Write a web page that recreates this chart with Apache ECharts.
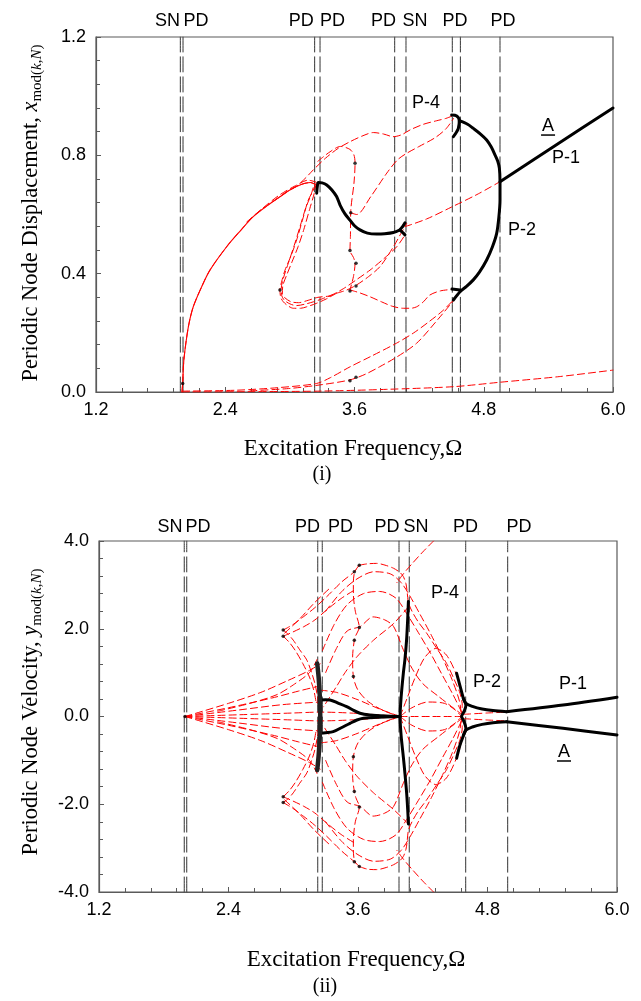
<!DOCTYPE html>
<html>
<head>
<meta charset="utf-8">
<script src="https://cdn.jsdelivr.net/npm/echarts@6/dist/echarts.min.js"></script>
<style>
html,body{margin:0;padding:0;background:#fff}
#c{width:641px;height:1001px}
</style>
</head>
<body>
<div id="c"></div>
<script>
// ---------- (i) periodic node displacement vs excitation frequency ----------
// stable solutions (solid black)
const dispP1 = [[4.951,0.711],[5.5,0.842],[6.0,0.96]];
const dispP2 = [[4.573,0.917],[4.65,0.905],[4.703,0.891],[4.77,0.872],[4.827,0.852],[4.87,0.828],[4.905,0.801],[4.93,0.78],[4.945,0.757],[4.951,0.711],[4.951,0.649],[4.94,0.59],[4.92,0.536],[4.88,0.49],[4.827,0.446],[4.76,0.405],[4.703,0.379],[4.64,0.357],[4.58,0.339],[4.518,0.311]];
const dispP2Hook = [[4.502,0.936],[4.549,0.933],[4.573,0.917],[4.564,0.891],[4.549,0.88],[4.518,0.863]];
const dispP2Foot = [[4.505,0.348],[4.58,0.345]];
const dispP4 = [[3.249,0.672],[3.255,0.695],[3.264,0.708],[3.3,0.707],[3.342,0.70],[3.39,0.683],[3.435,0.66],[3.466,0.632],[3.51,0.603],[3.558,0.581],[3.60,0.562],[3.651,0.548],[3.72,0.537],[3.806,0.534],[3.88,0.535],[3.961,0.539],[4.023,0.548]];
const dispP4Fork = [[4.069,0.572],[4.045,0.558],[4.023,0.548],[4.045,0.54],[4.069,0.531]];

// unstable solutions (dashed red)
const dispRise = [[1.998,0.0],[2.005,0.03],[2.012,0.09],[2.026,0.142],[2.06,0.225],[2.103,0.288],[2.18,0.355],[2.258,0.412],[2.413,0.491],[2.54,0.545],[2.66,0.593],[2.79,0.63],[2.908,0.66],[3.0,0.683],[3.094,0.70],[3.19,0.708],[3.235,0.702]];
const dispRise2 = [[2.6,0.575],[2.75,0.622],[2.9,0.665],[3.05,0.697],[3.17,0.716],[3.24,0.71]];
const dispUpper = [[2.85,0.645],[2.95,0.672],[3.063,0.696],[3.15,0.725],[3.218,0.751],[3.33,0.79],[3.45,0.824],[3.558,0.846],[3.67,0.865],[3.775,0.877],[3.87,0.872],[3.961,0.863],[4.04,0.87],[4.116,0.886],[4.24,0.905],[4.363,0.917],[4.45,0.925],[4.52,0.935]];
const dispUpper2 = [[3.565,0.606],[3.62,0.60],[3.75,0.66],[3.9,0.74],[4.0,0.785],[4.085,0.807],[4.2,0.83],[4.35,0.86],[4.45,0.89],[4.52,0.925]];
const dispLoopA = [[3.235,0.702],[3.215,0.68],[3.171,0.649],[3.12,0.585],[3.063,0.514],[3.01,0.46],[2.955,0.412],[2.925,0.375],[2.908,0.345],[2.915,0.32],[2.939,0.305],[2.98,0.292],[3.032,0.283],[3.1,0.283],[3.156,0.288],[3.249,0.30],[3.34,0.315],[3.434,0.334]];
const dispLoopB = [[3.215,0.69],[3.195,0.665],[3.15,0.625],[3.095,0.56],[3.04,0.495],[2.985,0.435],[2.94,0.385],[2.92,0.35],[2.925,0.325],[2.95,0.31],[3.0,0.298],[3.06,0.292],[3.14,0.297],[3.22,0.305],[3.3,0.315],[3.4,0.33]];
const dispLoopC = [[3.245,0.708],[3.225,0.67],[3.185,0.62],[3.13,0.55],[3.075,0.49],[3.02,0.44],[2.97,0.395],[2.935,0.36],[2.93,0.33],[2.955,0.318],[3.01,0.305],[3.08,0.302],[3.17,0.31],[3.26,0.32],[3.373,0.324]];
const dispToSN1 = [[3.373,0.324],[3.5,0.35],[3.62,0.38],[3.744,0.412],[3.87,0.45],[3.992,0.491],[4.069,0.531]];
const dispToSN2 = [[3.434,0.334],[3.53,0.345],[3.62,0.362],[3.73,0.39],[3.837,0.424],[3.96,0.49],[4.03,0.535],[4.085,0.570]];
const dispP1Unstable = [[4.069,0.559],[4.27,0.585],[4.5,0.625],[4.75,0.67],[4.951,0.711]];
const dispWave = [[3.26,0.78],[3.373,0.812],[3.47,0.83],[3.558,0.82],[3.595,0.801],[3.605,0.773],[3.595,0.706],[3.565,0.61],[3.562,0.525],[3.558,0.478],[3.59,0.455],[3.605,0.435],[3.59,0.39],[3.558,0.345]];
const dispDip = [[3.558,0.345],[3.65,0.335],[3.744,0.322],[3.85,0.305],[3.95,0.29],[4.053,0.283],[4.12,0.283],[4.177,0.288],[4.24,0.305],[4.30,0.328],[4.4,0.342],[4.518,0.347]];
const dispLow1 = [[2.005,0.003],[2.5,0.006],[2.9,0.015],[3.249,0.029],[3.373,0.048],[3.558,0.085],[3.75,0.12],[3.99,0.165],[4.15,0.2],[4.3,0.24],[4.42,0.275],[4.518,0.311]];
const dispLow2 = [[2.63,0.004],[3.0,0.012],[3.3,0.025],[3.558,0.041],[3.7,0.06],[3.837,0.086],[4.0,0.12],[4.177,0.165],[4.35,0.235],[4.549,0.322]];
const dispBase = [[2.0,0.0],[2.6,0.001],[3.28,0.003],[3.9,0.009],[4.518,0.018],[4.951,0.033],[5.5,0.052],[6.0,0.074]];
const dispNodes = [[2.005,0.029],[2.908,0.345],[3.605,0.773],[3.565,0.606],[3.558,0.478],[3.614,0.435],[3.614,0.358],[3.558,0.341],[3.614,0.05],[3.558,0.038]];

const dispBlack = [dispP1, dispP2, dispP2Hook, dispP2Foot, dispP4, dispP4Fork];
const dispRed = [dispRise, dispRise2, dispUpper, dispUpper2, dispLoopA, dispLoopB, dispLoopC, dispToSN1, dispToSN2, dispP1Unstable, dispWave, dispDip, dispLow1, dispLow2, dispBase];

// bifurcation frequencies and their tags
const dispBifOmega = [1.983, 2.008, 3.23, 3.28, 3.973, 4.078, 4.508, 4.583, 4.951];
const dispBifTags = [['SN',1.864],['PD',2.128],['PD',3.105],['PD',3.396],['PD',3.870],['SN',4.161],['PD',4.533],['PD',4.979]];
const dispTags = [['P-4',4.264,0.977],['A',5.397,0.899],['P-1',5.564,0.791],['P-2',5.155,0.548]];

// ---------- (ii) periodic node velocity vs excitation frequency ----------
const velP1Up = [[4.977,0.109],[5.5,0.26],[6.0,0.44]];
const velP1Lo = [[4.977,-0.118],[5.5,-0.27],[6.0,-0.42]];
const velP2Up = [[4.977,0.109],[4.85,0.135],[4.75,0.17],[4.66,0.23],[4.6,0.3],[4.576,0.415]];
const velP2Lo = [[4.977,-0.118],[4.85,-0.14],[4.75,-0.18],[4.66,-0.24],[4.6,-0.31],[4.576,-0.43]];
const velP2Bar = [[4.514,0.985],[4.545,0.7],[4.576,0.415],[4.6,0.25],[4.58,0.1],[4.56,0.0],[4.58,-0.1],[4.6,-0.27],[4.575,-0.45],[4.545,-0.65],[4.514,-0.95]];
const velSN = [[4.067,2.62],[4.06,2.2],[4.05,1.74],[4.035,1.3],[4.02,0.985],[4.0,0.45],[3.99,0.0],[4.0,-0.45],[4.02,-0.92],[4.035,-1.3],[4.051,-1.75],[4.06,-2.1],[4.067,-2.45]];
const velP4Up = [[3.248,0.376],[3.3,0.38],[3.34,0.376],[3.42,0.3],[3.495,0.224],[3.56,0.14],[3.618,0.073],[3.71,0.034],[3.85,0.01],[3.99,0.0]];
const velP4Lo = [[3.248,-0.383],[3.3,-0.37],[3.37,-0.346],[3.45,-0.25],[3.526,-0.155],[3.59,-0.08],[3.65,-0.04],[3.8,-0.015],[3.99,0.0]];
const velPDBar = [[3.222,1.21],[3.235,0.9],[3.245,0.5],[3.25,0.0],[3.245,-0.5],[3.235,-0.9],[3.222,-1.22]];

const velFan1 = [[1.997,0],[2.5,0.04],[3.0,0.08],[3.25,0.1],[3.6,0.07],[3.99,0]];
const velFan1n = [[1.997,0],[2.5,-0.04],[3.0,-0.08],[3.25,-0.1],[3.6,-0.07],[3.99,0]];
const velFan2 = [[1.997,0],[2.5,0.15],[2.9,0.27],[3.25,0.33]];
const velFan2n = [[1.997,0],[2.5,-0.15],[2.9,-0.27],[3.25,-0.33]];
const velFan3 = [[1.997,0],[2.4,0.2],[2.8,0.42],[3.05,0.58],[3.25,0.7]];
const velFan3n = [[1.997,0],[2.4,-0.2],[2.8,-0.42],[3.05,-0.58],[3.25,-0.7]];
const velFan4 = [[1.997,0],[2.4,0.3],[2.7,0.55],[2.95,0.82],[3.15,1.05],[3.25,1.2]];
const velFan4n = [[1.997,0],[2.4,-0.3],[2.7,-0.55],[2.95,-0.82],[3.15,-1.05],[3.25,-1.2]];
const velFan5 = [[2.3,0.12],[2.6,0.3],[2.85,0.5],[3.0,0.72],[3.15,1.0],[3.22,1.3]];
const velFan5n = [[2.3,-0.12],[2.6,-0.3],[2.85,-0.5],[3.0,-0.72],[3.15,-1.0],[3.22,-1.3]];

const velHorn1 = [[2.907,1.97],[3.0,2.1],[3.093,2.27],[3.2,2.48],[3.31,2.73],[3.45,3.07],[3.566,3.3],[3.612,3.45]];
const velHorn1n = [[2.907,-1.96],[3.0,-2.1],[3.093,-2.27],[3.2,-2.48],[3.31,-2.73],[3.45,-3.07],[3.566,-3.31],[3.612,-3.42]];
const velHorn2 = [[2.907,1.83],[3.0,1.93],[3.1,2.05],[3.2,2.2],[3.32,2.45],[3.45,2.7],[3.58,2.9]];
const velHorn2n = [[2.907,-1.83],[3.0,-1.93],[3.1,-2.05],[3.2,-2.2],[3.32,-2.45],[3.45,-2.7],[3.58,-2.9]];
const velHorn3 = [[2.907,1.97],[2.95,1.88],[3.0,1.74],[3.06,1.52],[3.125,1.29],[3.17,1.0],[3.2,0.76],[3.225,0.45],[3.235,0.22]];
const velHorn3n = [[2.907,-1.96],[2.95,-1.88],[3.0,-1.74],[3.06,-1.52],[3.125,-1.29],[3.17,-1.0],[3.2,-0.76],[3.225,-0.45],[3.235,-0.22]];
const velHorn4 = [[2.907,1.83],[2.96,1.7],[3.02,1.5],[3.09,1.2],[3.15,0.9],[3.19,0.6],[3.21,0.35]];
const velHorn4n = [[2.907,-1.83],[2.96,-1.7],[3.02,-1.5],[3.09,-1.2],[3.15,-0.9],[3.19,-0.6],[3.21,-0.35]];
const velHorn5 = [[2.92,1.9],[3.05,2.2],[3.2,2.6],[3.35,2.95]];
const velHorn5n = [[2.92,-1.9],[3.05,-2.2],[3.2,-2.6],[3.35,-2.95]];

const velEnv1 = [[3.612,3.45],[3.69,3.48],[3.773,3.49],[3.85,3.45],[3.928,3.38],[3.99,3.28],[4.02,3.19],[4.045,3.02],[4.055,2.85],[4.067,2.6],[4.1,2.4],[4.16,2.15],[4.236,1.9],[4.33,1.55],[4.421,1.21],[4.49,0.85],[4.545,0.53],[4.566,0.25],[4.56,0]];
const velEnv1n = [[3.612,-3.42],[3.69,-3.48],[3.773,-3.49],[3.85,-3.45],[3.928,-3.38],[3.99,-3.28],[4.02,-3.19],[4.045,-3.02],[4.055,-2.85],[4.067,-2.6],[4.1,-2.4],[4.16,-2.15],[4.236,-1.9],[4.33,-1.55],[4.421,-1.21],[4.49,-0.85],[4.545,-0.53],[4.566,-0.25],[4.56,0]];
const velEnv2 = [[3.3,2.4],[3.45,2.85],[3.6,3.15],[3.75,3.3],[3.9,3.25],[4.0,3.05],[4.08,2.75],[4.17,2.35],[4.28,1.85],[4.38,1.35],[4.47,0.85],[4.54,0.35],[4.56,0]];
const velEnv2n = [[3.3,-2.4],[3.45,-2.85],[3.6,-3.15],[3.75,-3.3],[3.9,-3.25],[4.0,-3.05],[4.08,-2.75],[4.17,-2.35],[4.28,-1.85],[4.38,-1.35],[4.47,-0.85],[4.54,-0.35],[4.56,0]];
const velEnv3 = [[3.27,1.5],[3.38,2.1],[3.5,2.55],[3.65,2.8],[3.8,2.85],[3.95,2.7],[4.05,2.35],[4.15,1.95],[4.27,1.45],[4.38,0.95],[4.48,0.5],[4.56,0.1]];
const velEnv3n = [[3.27,-1.5],[3.38,-2.1],[3.5,-2.55],[3.65,-2.8],[3.8,-2.85],[3.95,-2.7],[4.05,-2.35],[4.15,-1.95],[4.27,-1.45],[4.38,-0.95],[4.48,-0.5],[4.56,-0.1]];
const velEnv4 = [[3.3,1.0],[3.4,1.55],[3.5,1.95],[3.62,2.05],[3.74,2.27],[3.85,2.2],[3.93,2.05],[4.02,1.52],[4.1,1.1],[4.2,0.75],[4.35,0.45],[4.56,0.05]];
const velEnv4n = [[3.3,-1.0],[3.4,-1.55],[3.5,-1.95],[3.62,-2.05],[3.74,-2.27],[3.85,-2.2],[3.93,-2.05],[4.02,-1.52],[4.1,-1.1],[4.2,-0.75],[4.35,-0.45],[4.56,-0.05]];
const velDiag = [[4.067,2.5],[3.93,2.12],[3.744,1.74],[3.59,1.36],[3.48,1.0],[3.40,0.68],[3.28,0.22]];
const velDiagN = [[4.067,-2.45],[3.93,-2.12],[3.744,-1.74],[3.59,-1.36],[3.48,-1.0],[3.40,-0.68],[3.28,-0.22]];
const velWave = [[3.612,3.45],[3.57,3.3],[3.557,3.05],[3.557,2.81],[3.575,2.4],[3.612,2.03],[3.58,1.85],[3.566,1.74],[3.55,1.35],[3.557,0.91],[3.6,0.6],[3.7,0.33],[3.85,0.12],[3.99,0]];
const velWaveN = [[3.612,-3.42],[3.57,-3.3],[3.557,-3.05],[3.557,-2.81],[3.575,-2.4],[3.612,-2.06],[3.58,-1.85],[3.566,-1.71],[3.55,-1.35],[3.557,-0.92],[3.6,-0.6],[3.7,-0.33],[3.85,-0.12],[3.99,0]];
const velToSN = [[3.25,0.6],[3.4,0.55],[3.6,0.38],[3.8,0.17],[3.99,0]];
const velToSNn = [[3.25,-0.6],[3.4,-0.55],[3.6,-0.38],[3.8,-0.17],[3.99,0]];
const velRise = [[3.99,0],[4.06,0.45],[4.14,0.95],[4.22,1.35],[4.32,1.55],[4.42,1.4],[4.52,0.9],[4.575,0.4]];
const velRiseN = [[3.99,0],[4.06,-0.45],[4.14,-0.95],[4.22,-1.35],[4.32,-1.55],[4.42,-1.4],[4.52,-0.9],[4.575,-0.4]];
const velLens = [[3.99,0],[4.1,0.2],[4.25,0.33],[4.4,0.3],[4.5,0.15],[4.56,0]];
const velLensN = [[3.99,0],[4.1,-0.2],[4.25,-0.33],[4.4,-0.3],[4.5,-0.15],[4.56,0]];
const velZero = [[3.99,0],[4.27,0],[4.56,0]];
const velP1Unstable = [[4.58,0.05],[4.8,0.08],[4.977,0.1]];
const velP1UnstableN = [[4.58,-0.05],[4.8,-0.08],[4.977,-0.1]];
const velCross = [[4.3,4.0],[4.2,3.75],[4.1,3.48],[4.02,3.25],[3.96,3.05]];
const velCrossN = [[4.3,-4.0],[4.2,-3.75],[4.1,-3.48],[4.02,-3.25],[3.96,-3.05]];
const velNodes = [[1.997,0],[3.612,3.45],[3.566,3.30],[2.907,1.97],[2.907,1.83],[3.612,2.03],[3.566,1.74],[3.557,0.91],[2.907,-1.83],[2.907,-1.96],[3.566,-1.71],[3.612,-2.06],[3.557,-0.92],[3.566,-3.31],[3.612,-3.42]];

const velBlack = [velP1Up, velP1Lo, velP2Up, velP2Lo, velP2Bar, velSN, velP4Up, velP4Lo];
const velRed = [velFan1, velFan1n, velFan2, velFan2n, velFan3, velFan3n, velFan4, velFan4n, velFan5, velFan5n,
  velHorn1, velHorn1n, velHorn2, velHorn2n, velHorn3, velHorn3n, velHorn4, velHorn4n, velHorn5, velHorn5n,
  velEnv1, velEnv1n, velEnv2, velEnv2n, velEnv3, velEnv3n, velEnv4, velEnv4n, velDiag, velDiagN,
  velWave, velWaveN, velToSN, velToSNn, velRise, velRiseN, velLens, velLensN, velZero,
  velP1Unstable, velP1UnstableN, velCross, velCrossN];

const velBifOmega = [1.990, 2.013, 3.227, 3.269, 3.980, 4.075, 4.598, 4.987];
const velBifTags = [['SN',1.858],['PD',2.117],['PD',3.132],['PD',3.438],['PD',3.869],['SN',4.138],['PD',4.596],['PD',5.092]];
const velTags = [['P-4',4.406,2.815],['P-2',4.795,0.786],['P-1',5.592,0.741],['A',5.509,-0.809]];

// ---------- chart ----------
const SANS = '"Liberation Sans", Arial, sans-serif';
const SERIF = '"Liberation Serif", "Times New Roman", serif';
const AXIS_GREY = '#5a5a5a';

const chart = echarts.init(document.getElementById('c'), null, {renderer: 'canvas'});

function xAxisFor(gi) {
  return {
    type: 'value', gridIndex: gi, min: 1.2, max: 6.0, interval: 1.2,
    axisLine: {show: true, onZero: false, lineStyle: {color: AXIS_GREY, width: 1.2}},
    axisTick: {show: true, inside: true, length: 5, lineStyle: {color: AXIS_GREY}},
    minorTick: {show: true, splitNumber: 5, length: 4, lineStyle: {color: AXIS_GREY}},
    splitLine: {show: false}, minorSplitLine: {show: false},
    axisLabel: {color: '#000', fontFamily: SANS, fontSize: 18, margin: 9, formatter: v => v.toFixed(1)}
  };
}
function yAxisFor(gi, min, max, step) {
  return {
    type: 'value', gridIndex: gi, min: min, max: max, interval: step,
    axisLine: {show: true, onZero: false, lineStyle: {color: AXIS_GREY, width: 1.2}},
    axisTick: {show: true, inside: true, length: 5, lineStyle: {color: AXIS_GREY}},
    minorTick: {show: true, splitNumber: 5, length: 4, lineStyle: {color: AXIS_GREY}},
    splitLine: {show: false}, minorSplitLine: {show: false},
    axisLabel: {color: '#000', fontFamily: SANS, fontSize: 18, margin: 10, formatter: v => v.toFixed(1)}
  };
}
function curve(data, gi, color, width, dash, z) {
  return {
    type: 'line', xAxisIndex: gi, yAxisIndex: gi, data: data,
    symbol: 'none', showSymbol: false, smooth: 0.3, silent: true, z: z,
    lineStyle: {color: color, width: width, type: dash, cap: 'round', join: 'round'},
    animation: false
  };
}
function bifLine(omega, gi, lo, hi) {
  return curve([[omega, lo], [omega, hi]], gi, '#333', 1, [15, 5], 1);
}
function nodes(data, gi) {
  return {type: 'scatter', xAxisIndex: gi, yAxisIndex: gi, data: data, symbolSize: 3.5,
    itemStyle: {color: '#000'}, silent: true, z: 4, animation: false};
}

const RED_DASH = [7, 4];
const series = [];
dispBifOmega.forEach(w => series.push(bifLine(w, 0, 0, 1.2)));
velBifOmega.forEach(w => series.push(bifLine(w, 1, -4, 4)));
series.push(curve(dispRise, 0, '#ff0000', 1.1, 'solid', 2));
dispRed.forEach(d => series.push(curve(d, 0, '#ff0000', 1, RED_DASH, 3)));
velRed.forEach(d => series.push(curve(d, 1, '#ff0000', 1, RED_DASH, 3)));
series.push(nodes(dispNodes, 0));
series.push(nodes(velNodes, 1));
dispBlack.forEach(d => series.push(curve(d, 0, '#000', 3, 'solid', 5)));
velBlack.forEach(d => series.push(curve(d, 1, '#000', 3, 'solid', 5)));
series.push(curve(velPDBar, 1, '#222', 4.5, 'solid', 5));

chart.setOption({
  backgroundColor: '#fff',
  animation: false,
  grid: [
    {left: 96, top: 37, width: 517, height: 355, show: true, borderColor: AXIS_GREY, borderWidth: 1.2, backgroundColor: 'transparent', outerBoundsMode: 'none'},
    {left: 99, top: 541, width: 518, height: 351, show: true, borderColor: AXIS_GREY, borderWidth: 1.2, backgroundColor: 'transparent', outerBoundsMode: 'none'}
  ],
  xAxis: [xAxisFor(0), xAxisFor(1)],
  yAxis: [yAxisFor(0, 0, 1.2, 0.4), yAxisFor(1, -4, 4, 2)],
  series: series
});

// ---------- annotations ----------
const g = [];
function txt(x, y, text, font, size, align, extra) {
  return Object.assign({type: 'text', x: x, y: y, silent: true, z: 20,
    style: {text: text, fill: '#000', fontFamily: font, fontSize: size, align: align || 'center', verticalAlign: 'middle'}}, extra || {});
}
function addBifTags(tags, gi, yPix) {
  tags.forEach(t => {
    const p = chart.convertToPixel({gridIndex: gi}, [t[1], 0]);
    g.push(txt(p[0], yPix, t[0], SANS, 18));
  });
}
function addTags(tags, gi) {
  tags.forEach(t => {
    const p = chart.convertToPixel({gridIndex: gi}, [t[1], t[2]]);
    g.push(txt(p[0], p[1], t[0], SANS, 18));
    if (t[0] === 'A') {
      g.push({type: 'line', silent: true, z: 20,
        shape: {x1: p[0] - 7, y1: p[1] + 9, x2: p[0] + 7, y2: p[1] + 9},
        style: {stroke: '#000', lineWidth: 1.5}});
    }
  });
}
addBifTags(dispBifTags, 0, 21);
addBifTags(velBifTags, 1, 527);
addTags(dispTags, 0);
addTags(velTags, 1);

const yTitleRich = {
  n: {fontFamily: SERIF, fontSize: 22.5, verticalAlign: 'top', lineHeight: 23},
  v: {fontFamily: SERIF, fontSize: 22.5, fontStyle: 'italic', verticalAlign: 'top', lineHeight: 23},
  s: {fontFamily: SERIF, fontSize: 15, verticalAlign: 'top', lineHeight: 15, padding: [10, 0, 0, 0]},
  si: {fontFamily: SERIF, fontSize: 15, fontStyle: 'italic', verticalAlign: 'top', lineHeight: 15, padding: [10, 0, 0, 0]}
};
function yTitle(x, y, label, sym) {
  return {type: 'text', x: x, y: y, rotation: Math.PI / 2, silent: true, z: 20,
    style: {text: '{n|' + label + ' }{v|' + sym + '}{s|mod(}{si|k}{s|,}{si|N}{s|)}', rich: yTitleRich,
      fill: '#000', align: 'center', verticalAlign: 'middle'}};
}
g.push(yTitle(31, 213, 'Periodic Node Displacement,', 'x'));
g.push(yTitle(31, 712, 'Periodic Node Velocity,', 'y'));
g.push(txt(353, 449, 'Excitation Frequency,\u03A9', SERIF, 23));
g.push(txt(356, 960, 'Excitation Frequency,\u03A9', SERIF, 23));
g.push(txt(322, 475, '(i)', SERIF, 20));
g.push(txt(325, 987, '(ii)', SERIF, 20));

chart.setOption({graphic: {elements: g}});
</script>
</body>
</html>
